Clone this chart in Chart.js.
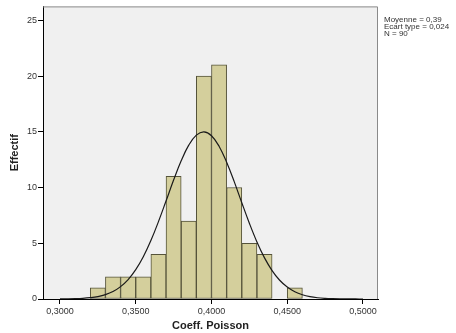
<!DOCTYPE html>
<html>
<head>
<meta charset="utf-8">
<script src="https://cdn.jsdelivr.net/npm/chart.js@4"></script>
<style>
  html, body { margin: 0; padding: 0; background: #fff; }
  #wrap { width: 456px; height: 333px; position: relative; }
</style>
</head>
<body>
<div id="wrap"><canvas id="histo" width="456" height="333"></canvas></div>
<script>
// centres des classes (largeur 0,01) et effectifs
const classes = [0.325, 0.335, 0.345, 0.355, 0.365, 0.375, 0.385, 0.395, 0.405, 0.415, 0.425, 0.435, 0.445, 0.455];
const effectifs = [1, 2, 2, 2, 4, 11, 7, 20, 21, 10, 5, 4, 0, 1];

// courbe normale
const courbeX = [0.300, 0.305, 0.310, 0.315, 0.320, 0.325, 0.330, 0.335, 0.340, 0.345, 0.350, 0.355, 0.360, 0.365, 0.370, 0.375, 0.380, 0.385, 0.390, 0.395, 0.400, 0.405, 0.410, 0.415, 0.420, 0.425, 0.430, 0.435, 0.440, 0.445, 0.450, 0.455, 0.460, 0.465, 0.470, 0.475, 0.480, 0.485, 0.490, 0.495, 0.500];
const courbeY = [0.006, 0.014, 0.03, 0.06, 0.12, 0.22, 0.39, 0.67, 1.11, 1.74, 2.63, 3.79, 5.24, 6.94, 8.79, 10.67, 12.4, 13.8, 14.7, 15.0, 14.65, 13.71, 12.27, 10.53, 8.64, 6.8, 5.12, 3.69, 2.55, 1.68, 1.07, 0.65, 0.38, 0.21, 0.11, 0.056, 0.028, 0.013, 0.006, 0.003, 0.001];

const ticksX = [0.30, 0.35, 0.40, 0.45, 0.50];
const ticksY = [0, 5, 10, 15, 20, 25];
const stats = ['Moyenne = 0,39', 'Ecart type = 0,024', 'N = 90'];

const fond = {
    id: 'fond',
    beforeDraw(chart) {
        const { ctx, chartArea: a } = chart;
        ctx.save();
        ctx.fillStyle = '#f0f0f0';
        ctx.fillRect(a.left, a.top, a.right - a.left, a.bottom - a.top);
        ctx.restore();
    },
    afterDraw(chart) {
        const { ctx, chartArea: a } = chart;
        ctx.save();
        // cadre gris haut et droite
        ctx.strokeStyle = '#8a8a8a';
        ctx.lineWidth = 1;
        ctx.beginPath();
        ctx.moveTo(a.left, a.top + 0.5);
        ctx.lineTo(a.right - 0.5, a.top + 0.5);
        ctx.lineTo(a.right - 0.5, a.bottom);
        ctx.stroke();
        // statistiques
        ctx.fillStyle = '#333';
        ctx.font = '8px "Liberation Sans", Arial, sans-serif';
        ctx.textBaseline = 'top';
        stats.forEach((t, i) => ctx.fillText(t, a.right + 6, 16 + i * 6.8));
        ctx.restore();
    }
};

new Chart(document.getElementById('histo'), {
    type: 'bar',
    data: {
        datasets: [
            {
                type: 'line',
                data: courbeX.map((x, i) => ({ x: x, y: courbeY[i] })),
                borderColor: '#1a1a1a',
                borderWidth: 1.2,
                pointRadius: 0,
                tension: 0.4,
                fill: false,
                order: 0
            },
            {
                type: 'bar',
                data: classes.map((x, i) => ({ x: x, y: effectifs[i] })),
                backgroundColor: '#d4cf9c',
                borderColor: '#55533a',
                borderWidth: 1,
                borderSkipped: false,
                barPercentage: 1,
                categoryPercentage: 1,
                order: 1
            }
        ]
    },
    options: {
        responsive: false,
        animation: false,
        layout: { padding: { left: 0, right: 78, top: 5, bottom: 0 } },
        plugins: {
            legend: { display: false },
            tooltip: { enabled: false }
        },
        scales: {
            x: {
                type: 'linear',
                offset: false,
                min: 0.2888,
                max: 0.5099,
                afterBuildTicks: s => { s.ticks = ticksX.map(v => ({ value: v })); },
                afterFit: s => { s.height = 34; },
                ticks: {
                    color: '#333',
                    font: { family: '"Liberation Sans", Arial, sans-serif', size: 9 },
                    padding: 2,
                    maxRotation: 0,
                    callback: v => v.toFixed(4).replace('.', ',')
                },
                grid: { drawOnChartArea: false, offset: false, tickLength: 5, tickColor: '#000' },
                border: { display: true, color: '#000', width: 1 },
                title: {
                    display: true,
                    text: 'Coeff. Poisson',
                    color: '#222',
                    font: { family: '"Liberation Sans", Arial, sans-serif', size: 11, weight: 'bold' },
                    padding: { top: 2, bottom: 0 }
                }
            },
            y: {
                min: 0,
                max: 26.25,
                afterBuildTicks: s => { s.ticks = ticksY.map(v => ({ value: v })); },
                afterFit: s => { s.width = 43; },
                ticks: {
                    color: '#333',
                    font: { family: '"Liberation Sans", Arial, sans-serif', size: 9 },
                    padding: 1
                },
                grid: { drawOnChartArea: false, tickLength: 5, tickColor: '#000' },
                border: { display: true, color: '#000', width: 1 },
                title: {
                    display: true,
                    text: 'Effectif',
                    color: '#222',
                    font: { family: '"Liberation Sans", Arial, sans-serif', size: 11, weight: 'bold' },
                    padding: { top: 8, bottom: 2 }
                }
            }
        }
    },
    plugins: [fond]
});
</script>
</body>
</html>
